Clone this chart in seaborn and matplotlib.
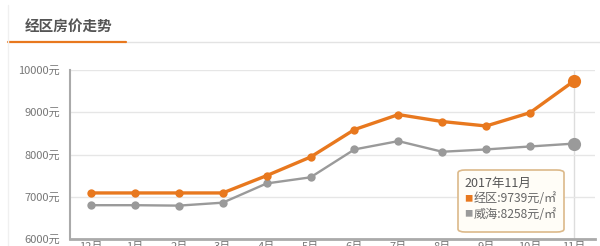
import matplotlib
matplotlib.use("Agg")
import matplotlib.pyplot as plt
import seaborn as sns
import pandas as pd
from matplotlib.patches import FancyBboxPatch
from matplotlib.lines import Line2D

months = ["12月", "1月", "2月", "3月", "4月", "5月", "6月", "7月", "8月", "9月", "10月", "11月"]
jingqu = [7090, 7090, 7090, 7090, 7500, 7940, 8590, 8945, 8780, 8675, 8990, 9739]
weihai = [6800, 6800, 6790, 6860, 7315, 7460, 8120, 8317, 8065, 8120, 8190, 8258]
series_names = ["经区", "威海"]
yticks = [6000, 7000, 8000, 9000, 10000]
ytick_labels = ["6000元", "7000元", "8000元", "9000元", "10000元"]
title = "经区房价走势"
tip_title = "2017年11月"

ORANGE = "#E8781E"
GRAY = "#9A9A9A"

sns.set_theme(style="white")
plt.rcParams['font.family'] = ['Noto Sans CJK SC', 'DejaVu Sans']

fig = plt.figure(figsize=(6.0, 2.46), dpi=100)
ax = fig.add_axes([70/600, 1 - 239/246, 525/600, 169/246])

x = list(range(len(months)))
sns.lineplot(x=x, y=weihai, color=GRAY, marker="o", markersize=6, markeredgewidth=0,
             linewidth=1.7, ax=ax)
sns.lineplot(x=x, y=jingqu, color=ORANGE, marker="o", markersize=6, markeredgewidth=0,
             linewidth=2.4, ax=ax)
# highlighted last points (hover)
ax.scatter([x[-1]], [jingqu[-1]], s=90, color=ORANGE, zorder=5, linewidths=0)
ax.scatter([x[-1]], [weihai[-1]], s=90, color=GRAY, zorder=5, linewidths=0)
ax.axvline(x[-1], color="#dddddd", linewidth=1, zorder=0)

ax.set_xlim(-0.48, 11.48)
ax.set_ylim(6000, 10000)
ax.set_yticks(yticks)
ax.set_yticklabels(ytick_labels, fontsize=8, color="#777777")
ax.set_xticks(x)
ax.set_xticklabels(months, fontsize=8, color="#777777")
ax.tick_params(axis="both", length=0)
ax.tick_params(axis="x", pad=2)
ax.tick_params(axis="y", pad=7)
ax.set_xlabel("")
ax.set_ylabel("")
ax.grid(axis="y", color="#e6e6e6", linewidth=1)
ax.set_axisbelow(True)
for s in ["top", "right"]:
    ax.spines[s].set_visible(False)
ax.spines["left"].set_color("#aaaaaa")
ax.spines["left"].set_linewidth(1.5)
ax.spines["bottom"].set_color("#aaaaaa")
ax.spines["bottom"].set_linewidth(2)

# header
fig.text(25/600, 1 - 27/246, title, fontsize=10.5, fontweight="bold", color="#555555",
         va="center", ha="left")
fig.add_artist(Line2D([125/600, 1.0], [1 - 42/246] * 2, color="#e3e3e3", linewidth=1))
fig.add_artist(Line2D([8/600, 126/600], [1 - 42/246] * 2, color=ORANGE, linewidth=1.6))
fig.add_artist(Line2D([8/600, 8/600], [0, 1 - 5/246], color="#f0f0f0", linewidth=1))

# tooltip
bx0, by0, bw, bh = 458/600, 1 - 232/246, 106/600, 62/246
box = FancyBboxPatch((bx0, by0), bw, bh, boxstyle="round,pad=0,rounding_size=0.012",
                     transform=fig.transFigure, facecolor="#fffdf7", edgecolor="#dcb98a",
                     linewidth=1.2, zorder=10)
fig.add_artist(box)
fig.text(464/600, 1 - 183/246, tip_title, fontsize=9, color="#555555", va="center", zorder=11)
fig.text(464/600, 1 - 199/246, "■", fontsize=6, color=ORANGE, va="center", zorder=11)
fig.text(474/600, 1 - 199/246, f"{series_names[0]}:{jingqu[-1]}元/㎡", fontsize=8.7,
         color="#666666", va="center", zorder=11)
fig.text(464/600, 1 - 214/246, "■", fontsize=6, color=GRAY, va="center", zorder=11)
fig.text(474/600, 1 - 214/246, f"{series_names[1]}:{weihai[-1]}元/㎡", fontsize=8.7,
         color="#666666", va="center", zorder=11)

fig.savefig("out.png", dpi=100)
